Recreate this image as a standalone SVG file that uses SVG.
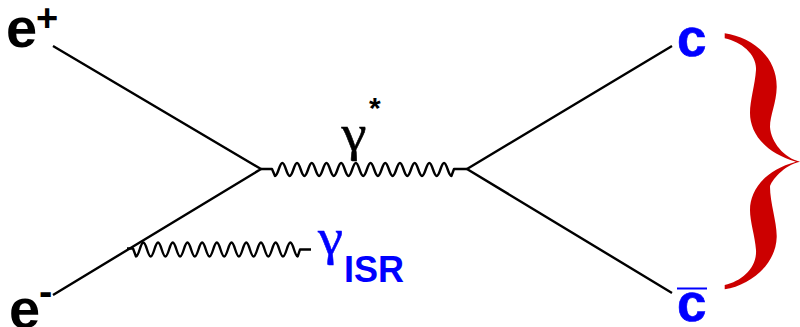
<svg xmlns="http://www.w3.org/2000/svg" width="800" height="327" viewBox="0 0 800 327">
<style>
.l{fill:none;stroke:#000;stroke-width:2.4;stroke-linecap:butt}
.w{fill:none;stroke:#000;stroke-width:2.4;stroke-linejoin:round}
.t{font-family:"Liberation Sans",Arial,sans-serif;font-weight:bold}
.g{font-family:"Liberation Serif","DejaVu Serif",serif;font-size:50px}
.b{fill:#0000ff}
</style>
<rect width="800" height="327" fill="#fff"/>
<g id="connectors">
<path class="l" d="M53,46L261,169L53,295"/>
<path class="l" d="M672,46L467,169L672,293"/>
<path class="w" d="M261,169H272L275,176c3,0 4.35,-13 7.35,-13c3,0 4.35,13 7.35,13c3,0 4.35,-13 7.35,-13c3,0 4.35,13 7.35,13c3,0 4.35,-13 7.35,-13c3,0 4.35,13 7.35,13c3,0 4.35,-13 7.35,-13c3,0 4.35,13 7.35,13c3,0 4.35,-13 7.35,-13c3,0 4.35,13 7.35,13c3,0 4.35,-13 7.35,-13c3,0 4.35,13 7.35,13c3,0 4.35,-13 7.35,-13c3,0 4.35,13 7.35,13c3,0 4.35,-13 7.35,-13c3,0 4.35,13 7.35,13c3,0 4.35,-13 7.35,-13c3,0 4.35,13 7.35,13c3,0 4.35,-13 7.35,-13c3,0 4.35,13 7.35,13c3,0 4.35,-13 7.35,-13c3,0 4.35,13 7.35,13c3,0 4.35,-13 7.35,-13c3,0 4.35,13 7.35,13L454,169H467"/>
<path class="w" d="M127,248.5H133L136,256.5
c3,0 4.35,-14 7.35,-14c3,0 4.35,14 7.35,14
c3,0 4.35,-14 7.35,-14c3,0 4.35,14 7.35,14
c3,0 4.35,-14 7.35,-14c3,0 4.35,14 7.35,14
c3,0 4.35,-14 7.35,-14c3,0 4.35,14 7.35,14
c3,0 4.35,-14 7.35,-14c3,0 4.35,14 7.35,14
c3,0 4.35,-14 7.35,-14c3,0 4.35,14 7.35,14
c3,0 4.35,-14 7.35,-14c3,0 4.35,14 7.35,14
c3,0 4.35,-14 7.35,-14c3,0 4.35,14 7.35,14
c3,0 4.35,-14 7.35,-14c3,0 4.35,14 7.35,14
c3,0 4.35,-14 7.35,-14c3,0 4.35,14 7.35,14
c3,0 4.35,-14 7.35,-14c3,0 4.35,14 7.35,14
L300,249.5H311"/>
</g>
<g id="e-plus"><text class="t" x="6" y="46.5" font-size="56">e</text><text class="t" x="36" y="31" font-size="38">+</text></g>
<g id="e-minus"><text class="t" x="9" y="327.5" font-size="56">e</text><text class="t" x="39" y="305" font-size="40">-</text></g>
<g id="gamma-star"><text class="g" x="341.5" y="149.5" textLength="25" lengthAdjust="spacingAndGlyphs" stroke="#000" stroke-width=".5">γ</text><text class="t" x="369" y="118" font-size="30">*</text></g>
<g id="gamma-isr"><text class="g b" x="318" y="253.5" textLength="25" lengthAdjust="spacingAndGlyphs" stroke="#0000ff" stroke-width=".5">γ</text><text class="t b" x="344" y="281.5" font-size="36">ISR</text></g>
<g id="c"><text class="t b" x="677" y="56" font-size="53" stroke="#0000ff" stroke-width=".6">c</text></g>
<g id="c-bar"><path d="M677,288.5H707" stroke="#0000ff" stroke-width="2" fill="none"/><text class="t b" x="677" y="321" font-size="53" stroke="#0000ff" stroke-width=".6">c</text></g>
<g id="brace"><path fill="#cc0000" d="M724.7,33.3C750,37 777,55 776.7,87C776.5,103 770,115 770,127C771,142 784,158 800,161.7C784,165 771,181 770,186.7C770,203 777,222 776.7,237C776,265 750,285 724.7,289.3V285C742,281 757,268 756,250C755,236 750,222 750,210C750,190 765,170 796,161.7C765,153 750,133 750,113C750,100 755,85 756,70C757,55 742,42 724.7,38.3Z"/></g>
</svg>
